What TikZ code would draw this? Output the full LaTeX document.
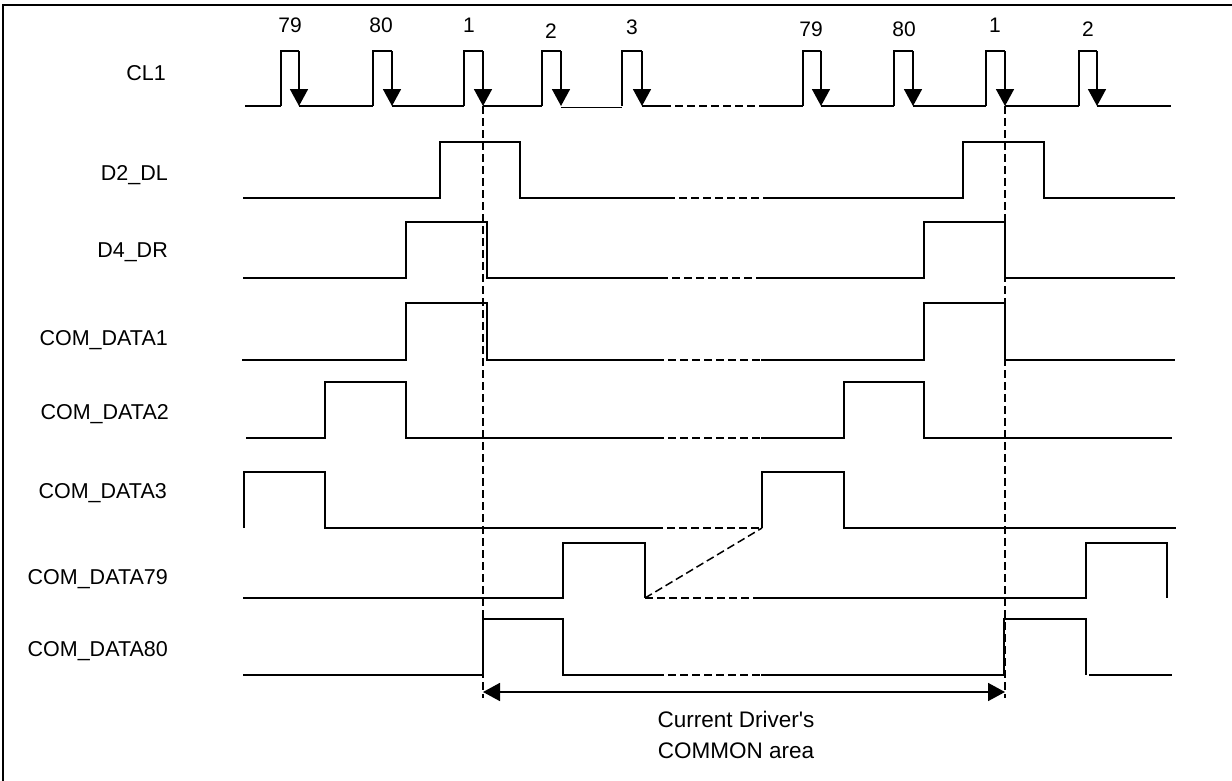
\documentclass[tikz,border=0pt]{standalone}
\usepackage{fontspec}
\setmainfont{Liberation Sans}[Ligatures=TeXOff]
\usetikzlibrary{arrows.meta}
\begin{document}
\begin{tikzpicture}[x=1pt,y=-1pt,
  wave/.style={line width=1.7pt, line join=miter},
  gapline/.style={line width=1.5pt, dash pattern=on 8pt off 4pt},
  guide/.style={line width=1.5pt, dash pattern=on 8pt off 4pt},
  clk/.style={line width=1.7pt, -{Triangle[width=18pt,length=17pt]}},
  span/.style={line width=1.7pt, {Triangle[width=18pt,length=17pt]}-{Triangle[width=18pt,length=17pt]}},
  lbl/.style={anchor=base east, font=\fontsize{21.5}{25}\selectfont, inner sep=0pt},
  num/.style={anchor=base, font=\fontsize{21}{25}\selectfont, inner sep=0pt},
  note/.style={align=center, font=\fontsize{22.5}{31}\selectfont, inner sep=0pt},
  frame/.style={line width=1.7pt}]
\useasboundingbox (0,0) rectangle (1232,780);
\draw[frame] (3,5) rectangle (1236,784);

% labels
\node[lbl] (lcl) at (166,80) {CL1};
\node[lbl] (ld2) at (168,180) {D2\_DL};
\node[lbl] (ld4) at (168,257) {D4\_DR};
\node[lbl] (lc1) at (168,345) {COM\_DATA1};
\node[lbl] (lc2) at (169,419) {COM\_DATA2};
\node[lbl] (lc3) at (167,498) {COM\_DATA3};
\node[lbl] (lc79) at (168,584) {COM\_DATA79};
\node[lbl] (lc80) at (168,656) {COM\_DATA80};

% clock numbers
\node[num] (n1) at (290,32) {79};
\node[num] (n2) at (381,32) {80};
\node[num] (n3) at (469,32) {1};
\node[num] (n4) at (551,38) {2};
\node[num] (n5) at (632,34) {3};
\node[num] (n6) at (811,36) {79};
\node[num] (n7) at (904,36) {80};
\node[num] (n8) at (995,32) {1};
\node[num] (n9) at (1088,36) {2};

% CL1
\foreach \r/\f in {281/299,373/392,464/483,542/561,622/642,803/821,894/913,986/1005,1079/1097}{
  \draw[wave] (\r,106) -- (\r,51) -- (\f,51);
  \draw[clk] (\f,51) -- (\f,106);
}
\draw[wave] (245,106) -- (281,106);
\draw[wave] (299,106) -- (373,106);
\draw[wave] (392,106) -- (464,106);
\draw[wave] (483,106) -- (542,106);
\draw[wave] (561,107.5) -- (622,107.5);
\draw[wave] (642,106) -- (663,106);
\draw[gapline] (663,106) -- (761,106);
\draw[wave] (761,106) -- (803,106);
\draw[wave] (821,106) -- (894,106);
\draw[wave] (913,106) -- (986,106);
\draw[wave] (1005,106) -- (1079,106);
\draw[wave] (1097,106) -- (1171,106);

% D2_DL
\draw[wave] (243,198) -- (440,198) -- (440,142) -- (520,142) -- (520,198) -- (667,198);
\draw[gapline] (667,198) -- (763,198);
\draw[wave] (763,198) -- (963,198) -- (963,142) -- (1044,142) -- (1044,198) -- (1175,198);

% D4_DR
\draw[wave] (243,278) -- (406,278) -- (406,222) -- (487,222) -- (487,278) -- (660,278);
\draw[gapline] (660,278) -- (763,278);
\draw[wave] (763,278) -- (924,278) -- (924,222) -- (1005,222) -- (1005,278) -- (1175,278);

% COM_DATA1
\draw[wave] (242,360) -- (406,360) -- (406,303) -- (487,303) -- (487,360) -- (656,360);
\draw[gapline] (656,360) -- (761,360);
\draw[wave] (761,360) -- (924,360) -- (924,303) -- (1005,303) -- (1005,360) -- (1175,360);

% COM_DATA2
\draw[wave] (246,438) -- (325,438) -- (325,382) -- (406,382) -- (406,438) -- (656,438);
\draw[gapline] (656,438) -- (761,438);
\draw[wave] (761,438) -- (844,438) -- (844,382) -- (924,382) -- (924,438) -- (1172,438);

% COM_DATA3
\draw[wave] (244,528) -- (244,472) -- (325,472) -- (325,528) -- (655,528);
\draw[gapline] (655,528) -- (762,528);
\coordinate (c3rise) at (762,528);
\draw[wave] (c3rise) -- (762,472) -- (844,472) -- (844,528) -- (1176,528);

% COM_DATA79
\coordinate (c79fall) at (645,598);
\draw[wave] (243,598) -- (563,598) -- (563,543) -- (645,543) -- (c79fall);
\draw[gapline] (c79fall) -- (761,598);
\draw[gapline] (c79fall) -- (c3rise);
\draw[wave] (761,598) -- (1086,598) -- (1086,543) -- (1167,543) -- (1167,598);

% COM_DATA80
\draw[wave] (243,675) -- (483,675) -- (483,619) -- (563,619) -- (563,675) -- (656,675);
\draw[gapline] (656,675) -- (761,675);
\draw[wave] (761,675) -- (1004,675) -- (1004,619) -- (1086,619) -- (1086,675);
\draw[wave] (1089,675) -- (1172,675);

% guides and span
\coordinate (gl1) at (483,106);
\coordinate (gl2) at (483,698);
\coordinate (gr1) at (1005,106);
\coordinate (gr2) at (1005,698);
\coordinate (al) at (483,692);
\coordinate (ar) at (1005,692);
\draw[guide] (gl1) -- (gl2);
\draw[guide] (gr1) -- (gr2);
\draw[span] (al) -- (ar);
\node[note] (txt) at (736,735) {Current Driver's\\COMMON area};
\end{tikzpicture}
\end{document}
